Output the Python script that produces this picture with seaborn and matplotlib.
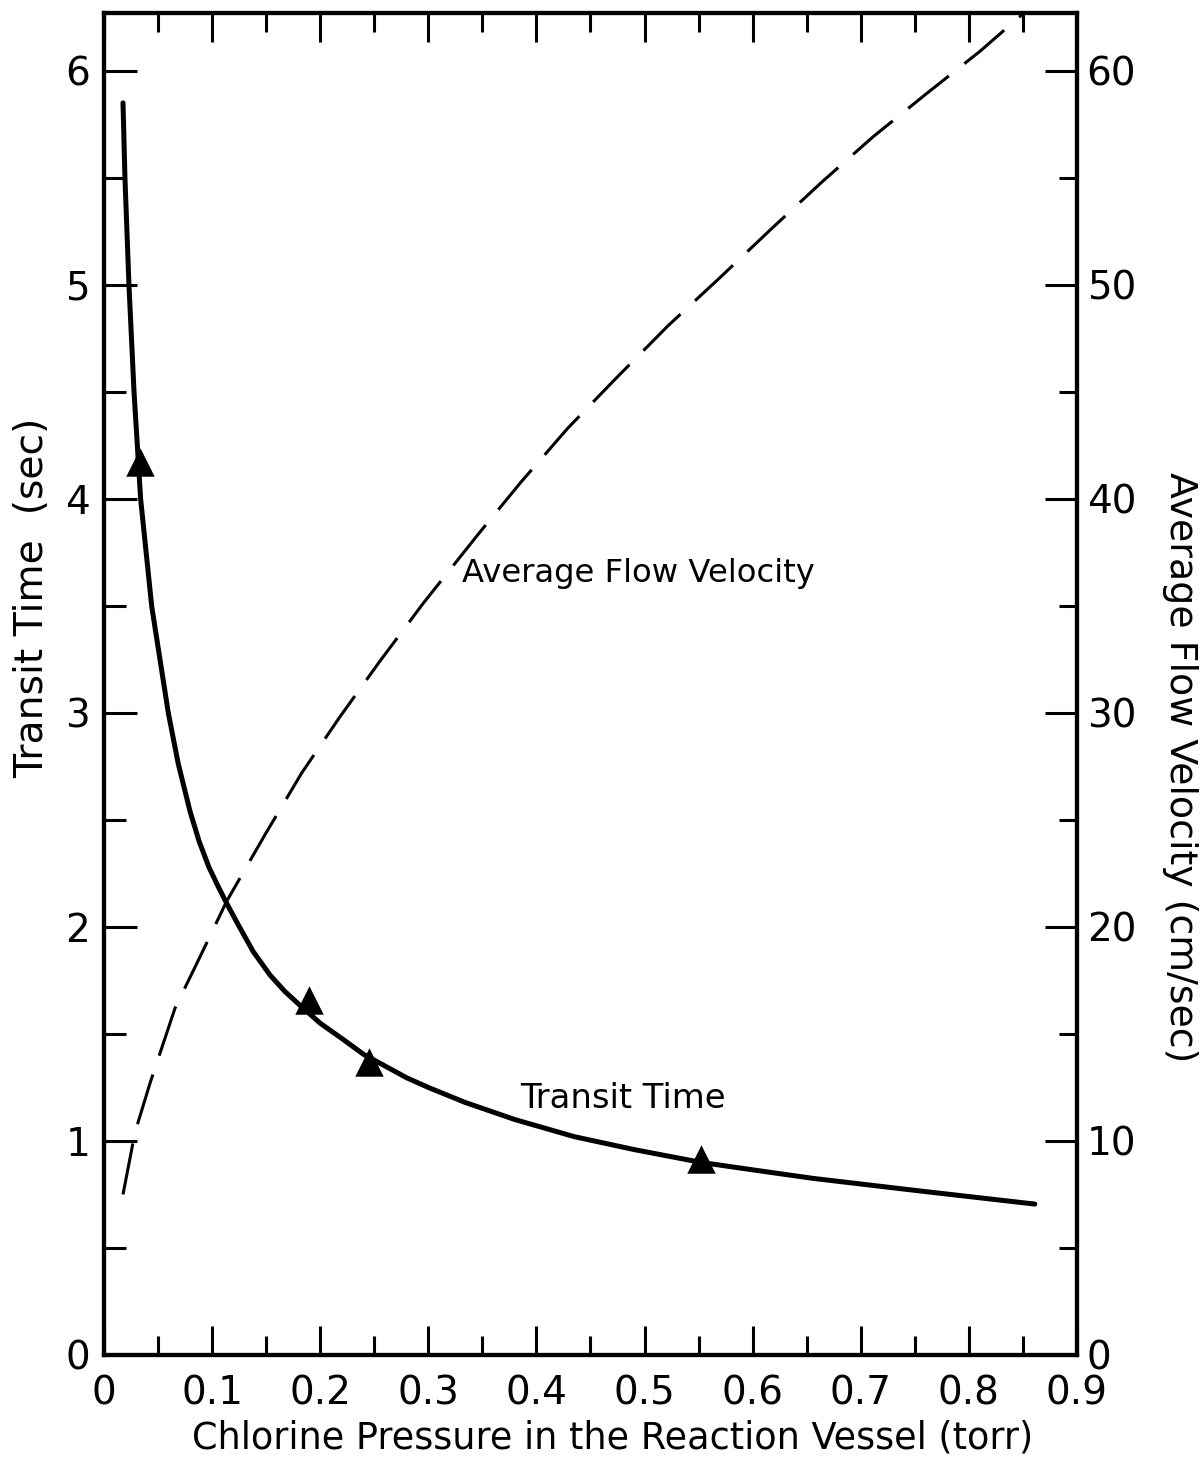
import matplotlib
matplotlib.use("Agg")
import matplotlib.pyplot as plt
from matplotlib.ticker import MultipleLocator
import seaborn as sns

# ---- data ----
transit_x = [0.0176, 0.0194, 0.0231, 0.0278, 0.0339, 0.0441, 0.0595, 0.0688, 0.0796,
             0.088, 0.097, 0.1055, 0.1135, 0.1242, 0.138, 0.1536, 0.167, 0.181, 0.200,
             0.221, 0.240, 0.260, 0.280, 0.300, 0.334, 0.380, 0.435, 0.490, 0.552,
             0.600, 0.656, 0.757, 0.861]
transit_y = [5.85, 5.50, 5.00, 4.50, 4.00, 3.50, 3.00, 2.76, 2.54,
             2.40, 2.28, 2.19, 2.11, 2.01, 1.885, 1.775, 1.70, 1.635, 1.55,
             1.475, 1.405, 1.35, 1.295, 1.25, 1.18, 1.10, 1.02, 0.96, 0.90,
             0.865, 0.825, 0.765, 0.705]

marker_x = [0.033, 0.1896, 0.2455, 0.552]
marker_y = [4.17, 1.66, 1.37, 0.915]

velocity_x = [0.0176, 0.0287, 0.0426, 0.0657, 0.0888, 0.1135, 0.150, 0.183, 0.218,
              0.255, 0.295, 0.347, 0.386, 0.429, 0.473, 0.522, 0.569, 0.617, 0.664,
              0.711, 0.760, 0.810, 0.851]
velocity_y = [7.5, 10.4, 12.7, 16.2, 18.6, 21.2, 24.4, 27.2, 29.8,
              32.4, 35.1, 38.4, 40.8, 43.3, 45.6, 48.1, 50.3, 52.6, 54.8,
              56.9, 58.9, 60.9, 62.7]

x_ticks = [0, 0.1, 0.2, 0.3, 0.4, 0.5, 0.6, 0.7, 0.8, 0.9]
x_ticklabels = ["0", "0.1", "0.2", "0.3", "0.4", "0.5", "0.6", "0.7", "0.8", "0.9"]
left_ticks = [0, 1, 2, 3, 4, 5, 6]
right_ticks = [0, 10, 20, 30, 40, 50, 60]

# ---- style ----
sns.set_style("white")
plt.rcParams["font.family"] = ["DejaVu Sans"]
for k in ["text.color", "axes.labelcolor", "xtick.color", "ytick.color", "axes.edgecolor"]:
    plt.rcParams[k] = "black"

fig = plt.figure(figsize=(12.02, 14.59), dpi=100)
ax = fig.add_axes([0.0865, 0.0713, 0.8095, 0.9198])
ax2 = ax.twinx()

sns.lineplot(x=transit_x, y=transit_y, ax=ax, color="black", lw=3.6,
             sort=False, estimator=None, solid_capstyle="round", solid_joinstyle="round")
sns.scatterplot(x=marker_x, y=marker_y, ax=ax, marker="^", s=420,
                color="black", edgecolor="black", linewidth=0, zorder=5)
sns.lineplot(x=velocity_x, y=velocity_y, ax=ax2, color="black", lw=2.2,
             sort=False, estimator=None, linestyle=(0, (17, 6.5)))

ax.set_xlim(0, 0.9)
ax.set_ylim(0, 6.27)
ax2.set_ylim(0, 62.7)

ax.set_xticks(x_ticks)
ax.set_xticklabels(x_ticklabels)
ax.xaxis.set_minor_locator(MultipleLocator(0.05))
ax.set_yticks(left_ticks)
ax.set_yticklabels([str(t) for t in left_ticks])
ax.yaxis.set_minor_locator(MultipleLocator(0.5))
ax2.set_yticks(right_ticks)
ax2.set_yticklabels([str(t) for t in right_ticks])
ax2.yaxis.set_minor_locator(MultipleLocator(5))

ax.tick_params(axis="x", which="both", direction="in", top=True, bottom=True,
               width=2.2, color="black")
ax.tick_params(axis="x", which="major", length=21, pad=14, labelsize=28)
ax.tick_params(axis="x", which="minor", length=14)
ax.tick_params(axis="y", which="both", direction="in", left=True, right=False,
               width=2.2, color="black")
ax.tick_params(axis="y", which="major", length=24, pad=10, labelsize=28)
ax.tick_params(axis="y", which="minor", length=16)
ax2.tick_params(axis="y", which="both", direction="in", right=True, left=False,
                width=2.2, color="black")
ax2.tick_params(axis="y", which="major", length=23, pad=7, labelsize=28)
ax2.tick_params(axis="y", which="minor", length=13)

for a in (ax, ax2):
    for s in a.spines.values():
        s.set_linewidth(3.0)
        s.set_color("black")

xl = ax.set_xlabel("Chlorine Pressure in the Reaction Vessel (torr)", fontsize=30, va="top")
ax.xaxis.set_label_coords(0.523, -0.048)
yl = ax.set_ylabel("Transit Time  (sec)", fontsize=30, va="center")
ax.yaxis.set_label_coords(-0.074, 0.564)
yl2 = ax2.set_ylabel("Average Flow Velocity (cm/sec)", fontsize=30,
                     rotation=270, va="center")
ax2.yaxis.set_label_coords(1.106, 0.438)

t1 = ax.text(0.331, 3.65, "Average Flow Velocity", fontsize=26,
             ha="left", va="center")
t2 = ax.text(0.385, 1.20, "Transit Time", fontsize=26, ha="left", va="center")

ax.grid(False)
ax2.grid(False)

# fit the lettering to the lengths it has in the reference (pixels)
fig.canvas.draw()
renderer = fig.canvas.get_renderer()
targets = [(xl, 840, "w"), (yl, 360, "h"), (yl2, 590, "h"), (t1, 353, "w"), (t2, 206, "w")]
for txt, target, dim in targets:
    bb = txt.get_window_extent(renderer)
    cur = bb.width if dim == "w" else bb.height
    txt.set_fontsize(txt.get_fontsize() * target / cur)

fig.savefig("out.png", dpi=100, facecolor="white")
